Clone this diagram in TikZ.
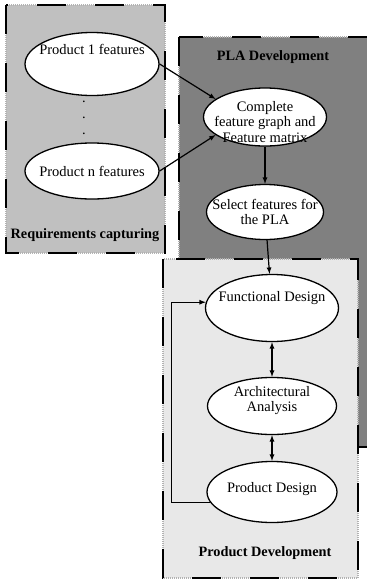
\documentclass[tikz,border=0pt]{standalone}
\usepackage{fontspec}
\setmainfont{Liberation Serif}
\usetikzlibrary{arrows}
\usetikzlibrary{positioning}
\usetikzlibrary{shapes}

\definecolor{reqgray}{HTML}{C0C0C0}
\definecolor{plagray}{HTML}{808080}
\definecolor{prodgray}{HTML}{E8E8E8}

\begin{document}
\begin{tikzpicture}[x=1pt,y=-1pt,>=latex,on grid,auto,
    every node/.style={font=\fontsize{14.5}{15.5}\selectfont},
    task/.style={ellipse,draw,fill=white,line width=1.3pt,inner xsep=-14pt,inner ysep=-10pt,align=center},
    frame/.style={line width=2.6pt,dash pattern=on 29pt off 29pt,
      preaction={draw=gray!60,line width=1.2pt,dash pattern=on 1pt off 1pt}},
    title/.style={font=\fontsize{14.3}{15.5}\selectfont\bfseries}]

  \useasboundingbox (0,0) rectangle (367,579);
  \clip (0,0) rectangle (367,579);

  % stage boxes
  \fill[plagray] (179,37) rectangle (390,447);
  \draw[frame] (179,37) rectangle (390,447);
  \fill[reqgray] (6,5) rectangle (165,253);
  \draw[frame] (6,5) rectangle (165,253);
  \fill[prodgray] (163,259) rectangle (358,578);
  \draw[frame] (163,259) rectangle (358,578);

  \node[title] (reqt)  at (85,235)  {Requirements capturing};
  \node[title] (plat)  at (273,57)  {PLA Development};
  \node[title] (prodt) at (265,553) {Product Development};

  % requirements
  \node[task,minimum width=134pt,minimum height=63pt,text depth=30pt] (p1) at (92,64) {Product 1 features};
  \node[task,minimum width=134pt,minimum height=56pt] (pn) [below=107pt of p1] {Product n features};
  \node[align=center,font=\fontsize{14.5}{16}\selectfont] (dots) at (84,118) {.\\.\\.};

  % PLA
  \node[task,minimum width=123pt,minimum height=58pt,text height=51pt] (cfg) at (265,117) {Complete\\feature graph and\\Feature matrix};
  \node[task,minimum width=117pt,minimum height=55pt] (sel) [below=95pt of cfg] {Select features for\\the PLA};

  % product
  \node[task,minimum width=133pt,minimum height=67pt,text depth=24pt] (fd) at (272,308) {Functional Design};
  \node[task,minimum width=129pt,minimum height=57pt,text depth=14pt] (aa) [below=98pt of fd] {Architectural\\Analysis};
  \node[task,minimum width=130pt,minimum height=61pt,text depth=10pt] (pd) [below=86pt of aa] {Product Design};

  \path[->,line width=1.2pt]
    (p1.east)  edge (cfg.160)
    (pn.east)  edge (cfg.200)
    (cfg)      edge (sel)
    (sel)      edge (fd)
    (fd)       edge [<->] (aa)
    (aa)       edge [<->] (pd)
  ;
  \draw[->,line width=1.2pt] (pd.190) -- ++(-39,0) |- (fd.175);
\end{tikzpicture}
\end{document}
